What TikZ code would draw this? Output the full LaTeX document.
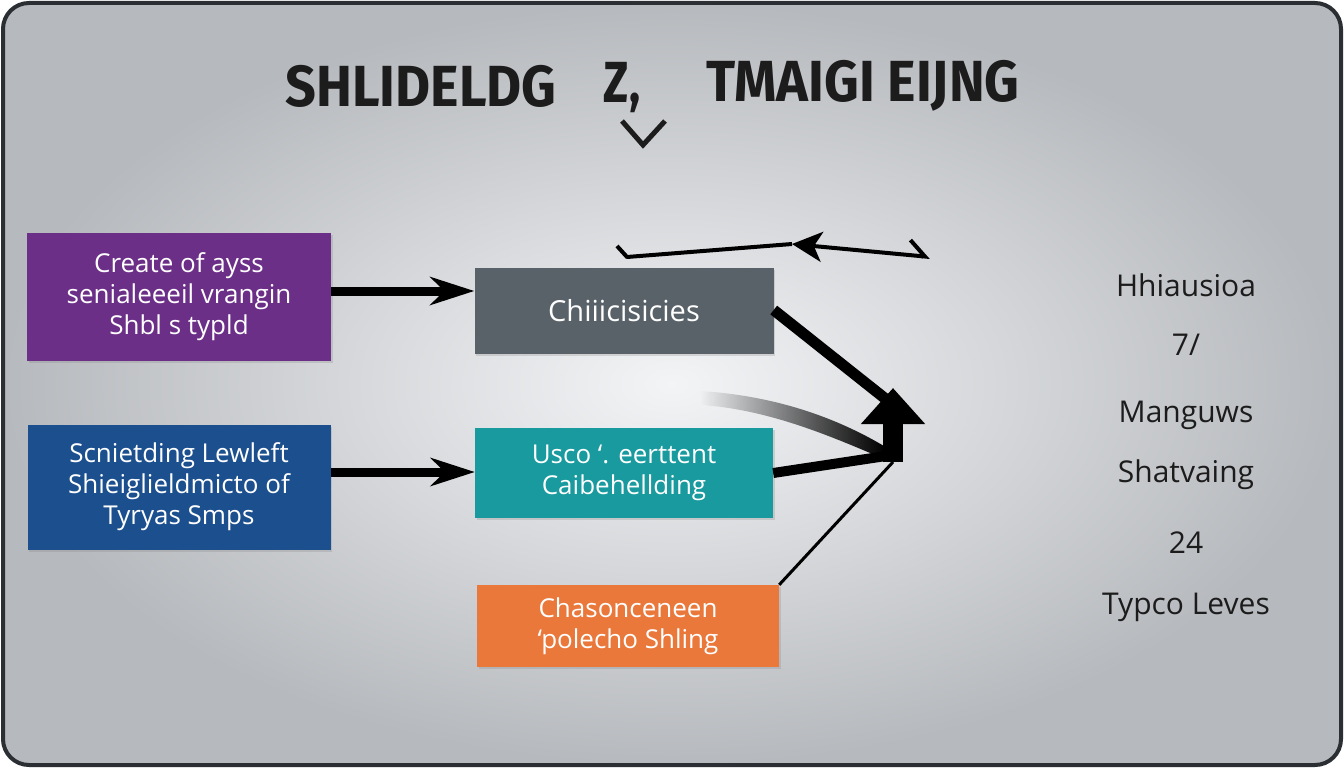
\documentclass[tikz,border=0pt]{standalone}
\usepackage{fontspec}
\setmainfont{Open Sans}
\newfontfamily\titlefont{Fira Sans}
\usetikzlibrary{positioning,arrows.meta,fadings,shadows}

\definecolor{boxpurple}{HTML}{6C2F88}
\definecolor{boxblue}{HTML}{1C4F8E}
\definecolor{boxgrey}{HTML}{5A6269}
\definecolor{boxteal}{HTML}{189A9E}
\definecolor{boxorange}{HTML}{EA783B}
\definecolor{bglight}{HTML}{F3F4F6}
\definecolor{bgdark}{HTML}{B6B9BD}
\definecolor{framecol}{HTML}{2B2F34}
\definecolor{inkcol}{HTML}{1C1C1C}

\begin{document}
\begin{tikzpicture}[x=1pt, y=-1pt, node distance=445pt, on grid,
    box/.style={rectangle, text=white, align=center, inner sep=0pt,
        font=\fontsize{26}{31}\selectfont,
        drop shadow={opacity=0.25, shadow xshift=1.5pt, shadow yshift=-2pt}},
    side/.style={text=inkcol, font=\fontsize{30}{34}\selectfont},
    titlef/.style={text=inkcol, inner sep=0pt, font=\titlefont\bfseries\fontsize{58}{58}\selectfont},
    arr/.style={line width=9pt, -{Stealth[length=44pt, width=28pt, inset=14pt]}}]
				% panel
				\fill[white] (0,0) rectangle (1344,768);
				\shade[inner color=bglight, outer color=bgdark, rounded corners=26pt] (3,3) rectangle (1341,765);
				\draw[framecol, line width=4pt, rounded corners=26pt] (3,3) rectangle (1341,765);
				
				% title
				\node[titlef] (h_1) at (421,86) {\scalebox{0.93}[1]{SHLIDELDG}};
				\node[titlef] (h_2) at (622,88) {\scalebox{0.8}[1]{Z,}};
				\node[titlef] (h_3) at (863,86) {\scalebox{0.93}[1]{TMAIGI EIJNG}};
				\draw[inkcol, line width=5pt] (622,121) -- (643,145) -- (665,121);
				
				% boxes
				\node[box, fill=boxpurple, minimum width=304pt, minimum height=128pt] (p_1) at (179,297) {Create of ayss\\senialeeeil vrangin\\Shbl s typld};
				\node[box, fill=boxgrey, minimum width=299pt, minimum height=86pt, font=\fontsize{29}{34}\selectfont] (g_1) [right=of p_1, yshift=-14pt] {Chiiicisicies};
				\node[box, fill=boxblue, minimum width=303pt, minimum height=125pt] (b_1) [below=190pt of p_1] {Scnietding Lewleft\\Shieiglieldmicto of\\Tyryas Smps};
				\node[box, fill=boxteal, minimum width=298pt, minimum height=90pt] (c_1) [right=of b_1, yshift=14pt] {Usco ‘. eerttent\\Caibehellding};
				\node[box, fill=boxorange, minimum width=302pt, minimum height=82pt] (o_1) [below=153pt of c_1, xshift=4pt] {Chasonceneen\\‘polecho Shling};
				
				% right column
				\node[side] (r_1) at (1186,285) {Hhiausioa};
				\node[side] (r_2) [below=60pt of r_1] {7/};
				\node[side] (r_3) [below=70pt of r_2] {Manguws};
				\node[side] (r_4) [below=60pt of r_3] {Shatvaing};
				\node[side] (r_5) [below=68pt of r_4] {24};
				\node[side] (r_6) [below=64pt of r_5] {Typco Leves};
				
				% arrows
				\draw[arr] ([yshift=6pt]p_1.east) -- ([yshift=6pt]p_1.east -| g_1.west);
				\draw[arr] ([yshift=15pt]b_1.east) -- ([yshift=15pt]b_1.east -| c_1.west);
				
				\coordinate (hub) at (893,462);
				\coordinate (top) at (893,388);
				\coordinate (k_1) at (887,400);
				\coordinate (k_2) at (886,456);
				\fill[black, path fading=west] (700,391) .. controls (780,396) and (840,420) .. (884,446) -- (882,458) .. controls (830,436) and (770,410) .. (702,405) -- cycle;
				\draw[line width=11pt] ([yshift=1pt]g_1.east) -- (k_1);
				\draw[line width=10pt] (c_1.east) -- (k_2);
				\draw[line width=3pt] (o_1.north east) -- (hub);
				\draw[line width=20pt, -{Triangle[length=36pt, width=62pt]}] (hub) -- (top);
				
				\coordinate (d_1) at (617,246);
				\coordinate (d_2) at (627,257);
				\coordinate (d_3) at (792,244);
				\coordinate (d_4) at (930,257);
				\draw[line width=4pt, line join=round] (d_1) -- (d_2) -- (d_3);
				\draw[line width=4pt, {Stealth[length=30pt, width=30pt, inset=8pt]}-{Straight Barb[harpoon, length=16pt, width=30pt]}] (d_3) -- (d_4);
			\end{tikzpicture}
\end{document}
